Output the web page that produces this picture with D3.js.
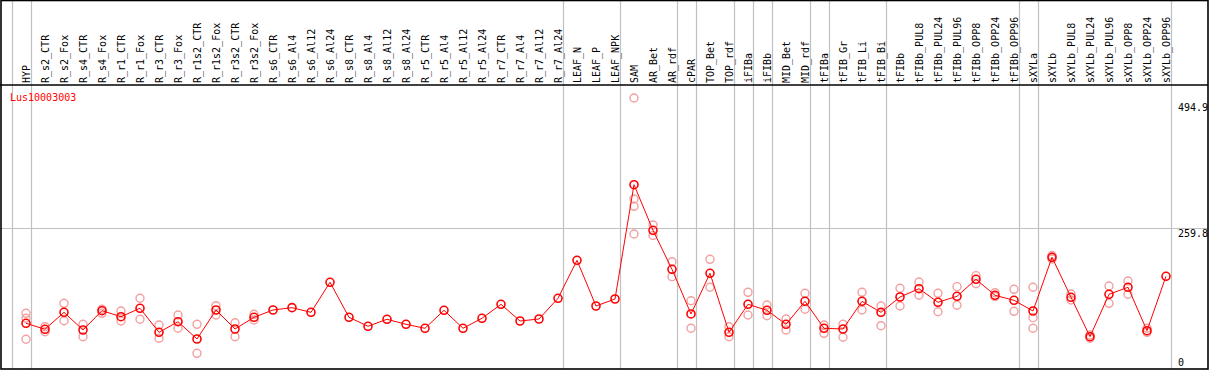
<!DOCTYPE html>
<html>
<head>
<meta charset="utf-8">
<script src="https://cdn.jsdelivr.net/npm/d3@7"></script>
<style>
  body { margin: 0; background: #fff; }
  svg { display: block; }
  text { font-family: "DejaVu Sans Mono", monospace; font-size: 10px; }
</style>
</head>
<body>
<svg id="chart"></svg>
<script>
const geneName = "Lus10003003";

const samples = ["HYP", "R_s2_CTR", "R_s2_Fox", "R_s4_CTR", "R_s4_Fox", "R_r1_CTR", "R_r1_Fox",
    "R_r3_CTR", "R_r3_Fox", "R_r1s2_CTR", "R_r1s2_Fox", "R_r3s2_CTR", "R_r3s2_Fox",
    "R_s6_CTR", "R_s6_Al4", "R_s6_Al12", "R_s6_Al24", "R_s8_CTR", "R_s8_Al4", "R_s8_Al12", "R_s8_Al24",
    "R_r5_CTR", "R_r5_Al4", "R_r5_Al12", "R_r5_Al24", "R_r7_CTR", "R_r7_Al4", "R_r7_Al12", "R_r7_Al24",
    "LEAF_N", "LEAF_P", "LEAF_NPK", "SAM", "AR_Bet", "AR_rdf", "cPAR", "TOP_Bet", "TOP_rdf",
    "iFIBa", "iFIBb", "MID_Bet", "MID_rdf", "tFIBa", "tFIB_Gr", "tFIB_Li", "tFIB_Bi", "tFIBb",
    "tFIBb_PUL8", "tFIBb_PUL24", "tFIBb_PUL96", "tFIBb_OPP8", "tFIBb_OPP24", "tFIBb_OPP96",
    "sXYLa", "sXYLb", "sXYLb_PUL8", "sXYLb_PUL24", "sXYLb_PUL96", "sXYLb_OPP8", "sXYLb_OPP24", "sXYLb_OPP96"];

// mean expression per sample
const means = [87.2, 76.4, 107.1, 75.1, 110.0, 99.2, 114.4, 70.9, 90.1, 58.8, 111.3, 76.9, 98.1,
    111.3, 115.5, 107.1, 161.4, 98.1, 81.8, 94.5, 85.4, 78.2, 110.7, 78.2, 96.3, 121.6, 91.4, 95.0, 132.5,
    201.2, 118.5, 131.2, 338.0, 255.5, 184.9, 104.1, 177.7, 70.9, 121.6, 110.7, 85.4, 127.0, 78.2, 76.9,
    127.0, 107.1, 134.8, 149.8, 125.2, 136.1, 166.8, 137.9, 128.8, 109.5, 206.7, 134.3, 63.0, 139.7,
    152.4, 73.8, 172.3];

// individual replicates per sample (empty when not shown)
const replicates = [
    [105.3, 96.3, 58.3], [81.1, 72.0], [123.4, 91.9], [85.4, 63.0], [112.6, 105.3], [109.5, 91.4],
    [132.5, 94.5], [84.1, 60.1], [102.2, 78.2], [85.4, 32.9], [119.1, 102.2], [88.3, 63.0], [103.5, 93.2],
    [], [], [], [], [], [], [], [], [], [], [], [], [], [], [], [],
    [], [], [],
    [494.9, 312.2, 298.9, 248.8], [265.1, 246.1], [198.7, 171.6], [128.1, 78.2], [203.0, 152.4],
    [81.1, 63.0], [143.3, 102.2], [120.3, 101.0], [94.9, 75.1], [141.5, 112.6], [84.1, 69.1],
    [85.4, 61.9], [143.3, 111.3], [118.5, 82.9], [150.6, 118.5], [162.0, 137.9], [141.5, 108.2],
    [153.5, 119.8], [173.4, 158.9], [142.6, 135.4], [148.7, 108.9], [152.4, 97.4, 78.2],
    [209.9, 203.6], [140.2, 129.4], [60.1, 66.0], [154.7, 123.4], [163.8, 139.7], [78.2, 70.9], []
];

// last sample of each tissue group (a grey separator follows it)
const groupEnds = ["HYP", "R_r7_Al24", "LEAF_NPK", "AR_rdf", "cPAR", "TOP_rdf", "iFIBa", "iFIBb",
    "MID_rdf", "tFIBa", "tFIB_Bi", "tFIBb_OPP96", "sXYLa", "sXYLb_OPP96"];

const yTicks = [0, 259.8, 494.9];

class ProfileChart {
    constructor(_config) {
        this.config = {
            parentElement: _config.parentElement,
            containerWidth: 1209,
            containerHeight: 370,
            headerHeight: 85,
            plotBottom: 369,
            right: 1208
        };
        this.initVis();
    }

    initVis() {
        let vis = this;
        const c = vis.config;

        vis.svg = d3.select(c.parentElement)
            .attr('width', c.containerWidth)
            .attr('height', c.containerHeight);

        vis.xScale = d3.scalePoint()
            .domain(samples)
            .range([26, 1166]);

        vis.yScale = d3.scaleLinear()
            .domain([0, d3.max(yTicks)])
            .range([371.5, 98]);

        vis.renderVis();
    }

    renderVis() {
        let vis = this;
        const c = vis.config;
        const x = vis.xScale, y = vis.yScale;
        const step = x.step();

        // grey group separators (full height)
        const seps = [x(samples[0]) - step + 4.5].concat(groupEnds.map(d => x(d) + 4.5));
        vis.svg.append('g').selectAll('line')
            .data(seps)
            .join('line')
            .attr('x1', d => Math.round(d) + 0.5)
            .attr('x2', d => Math.round(d) + 0.5)
            .attr('y1', 0)
            .attr('y2', c.plotBottom)
            .attr('stroke', '#c0c0c0')
            .attr('stroke-width', 1.2);

        // horizontal reference line
        vis.svg.append('line')
            .attr('x1', 0).attr('x2', c.right)
            .attr('y1', Math.round(y(yTicks[1])) + 0.5)
            .attr('y2', Math.round(y(yTicks[1])) + 0.5)
            .attr('stroke', '#c0c0c0')
            .attr('stroke-width', 1.2);

        // frame
        vis.svg.append('rect')
            .attr('x', 1).attr('y', 0.5)
            .attr('width', c.right - 1).attr('height', c.plotBottom - 0.5)
            .attr('fill', 'none')
            .attr('stroke', '#000')
            .attr('stroke-width', 1.6);

        vis.svg.append('line')
            .attr('x1', 0).attr('x2', c.right)
            .attr('y1', c.headerHeight).attr('y2', c.headerHeight)
            .attr('stroke', '#000')
            .attr('stroke-width', 1.6);

        // sample labels in header
        vis.svg.append('g').selectAll('text')
            .data(samples)
            .join('text')
            .attr('transform', d => `translate(${x(d) + 4},83) rotate(-90)`)
            .attr('fill', '#000')
            .text(d => d);

        // gene name
        vis.svg.append('text')
            .attr('x', 10)
            .attr('y', 101)
            .attr('fill', '#ff0000')
            .text(geneName);

        // right value axis
        const yAxis = d3.axisRight(y)
            .tickValues(yTicks)
            .tickSize(0)
            .tickPadding(0)
            .tickFormat(d => d === 0 ? '0' : d3.format('.1f')(d));

        const yAxisG = vis.svg.append('g')
            .attr('transform', 'translate(1178,0)')
            .call(yAxis)
            .call(g => g.select('.domain').remove());

        yAxisG.selectAll('.tick')
            .attr('transform', d => `translate(0,${Math.min(Math.max(y(d) + 1, 103), 358)})`)
            .select('text')
            .attr('x', 0)
            .attr('dy', '0.8em')
            .attr('fill', '#000')
            .style('font-family', '"DejaVu Sans Mono", monospace')
            .style('font-size', '10px');

        // replicate points
        const repPts = [];
        samples.forEach((s, i) => replicates[i].forEach(v => repPts.push({ s: s, v: v })));

        vis.svg.append('g').selectAll('circle')
            .data(repPts)
            .join('circle')
            .attr('cx', d => x(d.s))
            .attr('cy', d => y(d.v))
            .attr('r', 4)
            .attr('fill', 'none')
            .attr('stroke', '#f2a0a0')
            .attr('stroke-width', 1.4);

        // mean line
        const meanData = samples.map((s, i) => ({ s: s, v: means[i] }));

        vis.svg.append('path')
            .datum(meanData)
            .attr('fill', 'none')
            .attr('stroke', '#ff0000')
            .attr('stroke-width', 1)
            .attr('d', d3.line()
                .x(d => x(d.s))
                .y(d => y(d.v)));

        vis.svg.append('g').selectAll('circle')
            .data(meanData)
            .join('circle')
            .attr('cx', d => x(d.s))
            .attr('cy', d => y(d.v))
            .attr('r', 4)
            .attr('fill', 'none')
            .attr('stroke', '#ff0000')
            .attr('stroke-width', 1.6);
    }
}

new ProfileChart({ parentElement: '#chart' });
</script>
</body>
</html>
